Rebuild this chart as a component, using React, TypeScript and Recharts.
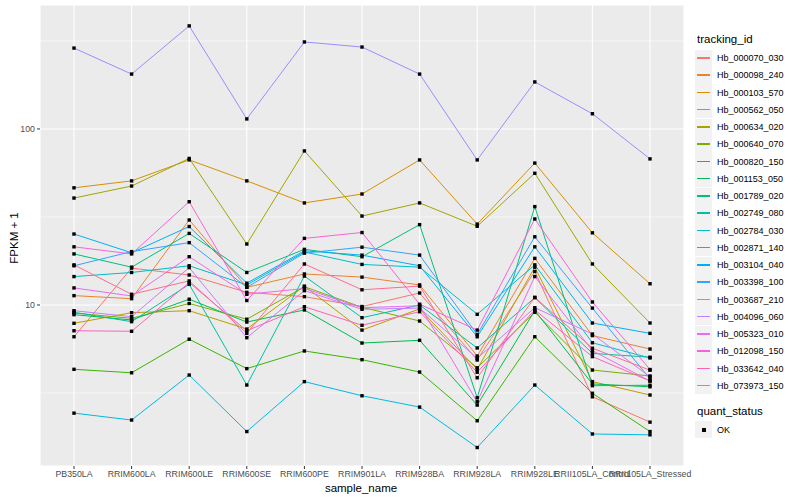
import { LineChart, Line, XAxis, YAxis, CartesianGrid, ReferenceLine } from 'recharts';

const samples = [
  'PB350LA', 'RRIM600LA', 'RRIM600LE', 'RRIM600SE', 'RRIM600PE', 'RRIM901LA',
  'RRIM928BA', 'RRIM928LA', 'RRIM928LE', 'RRII105LA_Control', 'RRII105LA_Stressed',
];

// FPKM + 1 per gene, one value per sample
const hb000070_030 = [6.6, 16.2, 14.8, 11.8, 11.15, 9.8, 11.7, 4.87, 15.5, 3.01, 2.16];
const hb000098_240 = [11.3, 10.86, 30.4, 12.6, 15.0, 14.4, 13.0, 5.13, 18.4, 6.7, 5.62];
const hb000103_570 = [46.3, 50.7, 66.7, 50.7, 38, 42.7, 66.7, 28.8, 64, 25.7, 13.2];
const hb000562_050 = [7.87, 9.04, 9.28, 7.3, 12.8, 7.2, 9.5, 4.31, 16.4, 3.67, 3.08];
const hb000634_020 = [40.5, 47.4, 68, 22.2, 75, 32, 38, 28, 56, 17.1, 7.9];
const hb000640_070 = [9.0, 8.4, 10.2, 8.3, 12.7, 9.7, 8.11, 4.4, 9.09, 4.27, 3.95];
const hb000820_150 = [4.31, 4.12, 6.39, 4.35, 5.48, 4.89, 4.16, 2.2, 6.6, 3.15, 1.91];
const hb001153_050 = [8.81, 8.22, 10.78, 8.0, 9.37, 6.08, 6.3, 2.7, 9.3, 3.56, 3.43];
const hb001789_020 = [19.5, 16.4, 25.5, 15.3, 20.7, 18.8, 28.6, 2.97, 36.2, 3.48, 3.5];
const hb002749_080 = [9.09, 8.04, 13.1, 3.51, 14.6, 8.47, 10.0, 5.7, 11.0, 5.31, 5.05];
const hb002784_030 = [14.5, 15.3, 16.7, 13.0, 20.0, 17.0, 16.4, 8.85, 16.9, 6.1, 5.0];
const hb002871_140 = [2.43, 2.22, 4.0, 1.91, 3.67, 3.05, 2.63, 1.55, 3.51, 1.85, 1.83];
const hb003104_040 = [25.3, 19.8, 27.9, 13.3, 20.3, 19.2, 16.7, 6.6, 21.4, 7.9, 6.9];
const hb003398_100 = [16.7, 20.1, 22.6, 12.6, 19.7, 21.3, 19.2, 6.8, 24.4, 9.6, 3.8];
const hb003687_210 = [288, 205, 385, 114, 312, 292, 205, 66.7, 185, 122, 67.6];
const hb004096_060 = [9.28, 8.58, 16.3, 6.52, 12.06, 9.45, 9.6, 4.98, 9.65, 6.84, 3.91];
const hb005323_010 = [12.5, 11.25, 18.8, 11.5, 12.4, 9.65, 9.9, 2.82, 14.5, 5.5, 3.7];
const hb012098_150 = [21.4, 19.5, 38.6, 10.6, 23.9, 25.8, 10.1, 7.2, 30.8, 10.4, 4.3];
const hb033642_040 = [7.14, 7.09, 13.4, 7.14, 9.78, 7.67, 9.16, 4.15, 9.37, 5.09, 3.7];
const hb073973_150 = [16.9, 11.5, 13.7, 6.9, 17.1, 12.2, 12.8, 3.86, 11.06, 5.68, 4.26];

const trackingIds = [
  'Hb_000070_030', 'Hb_000098_240', 'Hb_000103_570', 'Hb_000562_050', 'Hb_000634_020',
  'Hb_000640_070', 'Hb_000820_150', 'Hb_001153_050', 'Hb_001789_020', 'Hb_002749_080',
  'Hb_002784_030', 'Hb_002871_140', 'Hb_003104_040', 'Hb_003398_100', 'Hb_003687_210',
  'Hb_004096_060', 'Hb_005323_010', 'Hb_012098_150', 'Hb_033642_040', 'Hb_073973_150',
];

const seriesValues = [
  hb000070_030, hb000098_240, hb000103_570, hb000562_050, hb000634_020,
  hb000640_070, hb000820_150, hb001153_050, hb001789_020, hb002749_080,
  hb002784_030, hb002871_140, hb003104_040, hb003398_100, hb003687_210,
  hb004096_060, hb005323_010, hb012098_150, hb033642_040, hb073973_150,
];

// ggplot default hue palette, 20 levels
const COLORS = [
  '#F8766D', '#EA8331', '#D89000', '#C09B00', '#A3A500',
  '#7CAE00', '#39B600', '#00BB4E', '#00BF7D', '#00C1A3',
  '#00BFC4', '#00BAE0', '#00B0F6', '#35A2FF', '#9590FF',
  '#C77CFF', '#E76BF3', '#FA62DB', '#FF62BC', '#FF6C91',
];

const yTicks = [10, 100];
const yMinor = [3.162, 31.62, 316.2];

const FONT = '"Liberation Sans", Arial, Helvetica, sans-serif';

const rows = samples.map((s, i) => {
  const row: Record<string, string | number> = { sample: s };
  trackingIds.forEach((id, k) => {
    row[id] = seriesValues[k][i];
  });
  return row;
});

function SquareDot(props: any) {
  const { cx, cy, index } = props;
  if (cx == null || cy == null) return <g key={index} />;
  return <rect key={index} x={cx - 1.7} y={cy - 1.7} width={3.4} height={3.4} fill="#000" />;
}

export default function App() {
  return (
    <div style={{ position: 'relative', width: 800, height: 500, background: '#fff', fontFamily: FONT }}>
      <style>{'body{margin:0}'}</style>
      <LineChart
        width={800}
        height={500}
        data={rows}
        margin={{ top: 5, right: 116, bottom: 14, left: 0 }}
      >
        <CartesianGrid stroke="#FFFFFF" strokeWidth={1.1} fill="#EBEBEB" fillOpacity={1} />
        {yMinor.map((v) => (
          <ReferenceLine key={v} y={v} stroke="#FFFFFF" strokeWidth={0.55} />
        ))}
        <XAxis
          dataKey="sample"
          type="category"
          interval={0}
          padding={{ left: 34, right: 34 }}
          height={20}
          axisLine={false}
          tickSize={3}
          tickMargin={2}
          tickLine={{ stroke: '#333333' }}
          tick={{ fontSize: 8.8, fill: '#4D4D4D', fontFamily: FONT }}
        />
        <YAxis
          type="number"
          scale="log"
          domain={[1.217, 506]}
          allowDataOverflow
          ticks={yTicks}
          width={40}
          axisLine={false}
          tickSize={3}
          tickMargin={2}
          tickLine={{ stroke: '#333333' }}
          tick={{ fontSize: 8.8, fill: '#4D4D4D', fontFamily: FONT }}
          tickFormatter={(v: number) => String(v)}
        />
        {trackingIds.map((id, k) => (
          <Line
            key={id}
            dataKey={id}
            type="linear"
            stroke={COLORS[k]}
            strokeWidth={1}
            dot={false}
            activeDot={false}
            isAnimationActive={false}
          />
        ))}
        {trackingIds.map((id) => (
          <Line
            key={id + '_pt'}
            dataKey={id}
            type="linear"
            stroke="none"
            strokeWidth={0}
            dot={SquareDot}
            activeDot={false}
            legendType="none"
            isAnimationActive={false}
          />
        ))}
      </LineChart>

      {/* axis titles */}
      <div style={{ position: 'absolute', left: 291, width: 140, top: 482, textAlign: 'center', fontSize: 11.5, color: '#000' }}>
        sample_name
      </div>
      <div
        style={{
          position: 'absolute', left: 14, top: 238, fontSize: 11.5, color: '#000',
          transform: 'translate(-50%, -50%) rotate(-90deg)', whiteSpace: 'nowrap',
        }}
      >
        FPKM + 1
      </div>

      {/* legend */}
      <div style={{ position: 'absolute', left: 697, top: 33, fontSize: 11.5, color: '#000' }}>tracking_id</div>
      {trackingIds.map((id, k) => (
        <div key={id} style={{ position: 'absolute', left: 695, top: 49.5 + k * 17.25, height: 17, display: 'flex', alignItems: 'center' }}>
          <div style={{ width: 17, height: 17, background: '#F2F2F2', position: 'relative' }}>
            <div style={{ position: 'absolute', left: 2, right: 2, top: 7.5, height: 1.5, background: COLORS[k] }} />
          </div>
          <span style={{ marginLeft: 5, fontSize: 9, color: '#000' }}>{id}</span>
        </div>
      ))}
      <div style={{ position: 'absolute', left: 697, top: 405, fontSize: 11.5, color: '#000' }}>quant_status</div>
      <div style={{ position: 'absolute', left: 695, top: 421, height: 17, display: 'flex', alignItems: 'center' }}>
        <div style={{ width: 17, height: 17, background: '#F2F2F2', position: 'relative' }}>
          <div style={{ position: 'absolute', left: 6.5, top: 6.5, width: 4, height: 4, background: '#000' }} />
        </div>
        <span style={{ marginLeft: 5, fontSize: 9, color: '#000' }}>OK</span>
      </div>
    </div>
  );
}
